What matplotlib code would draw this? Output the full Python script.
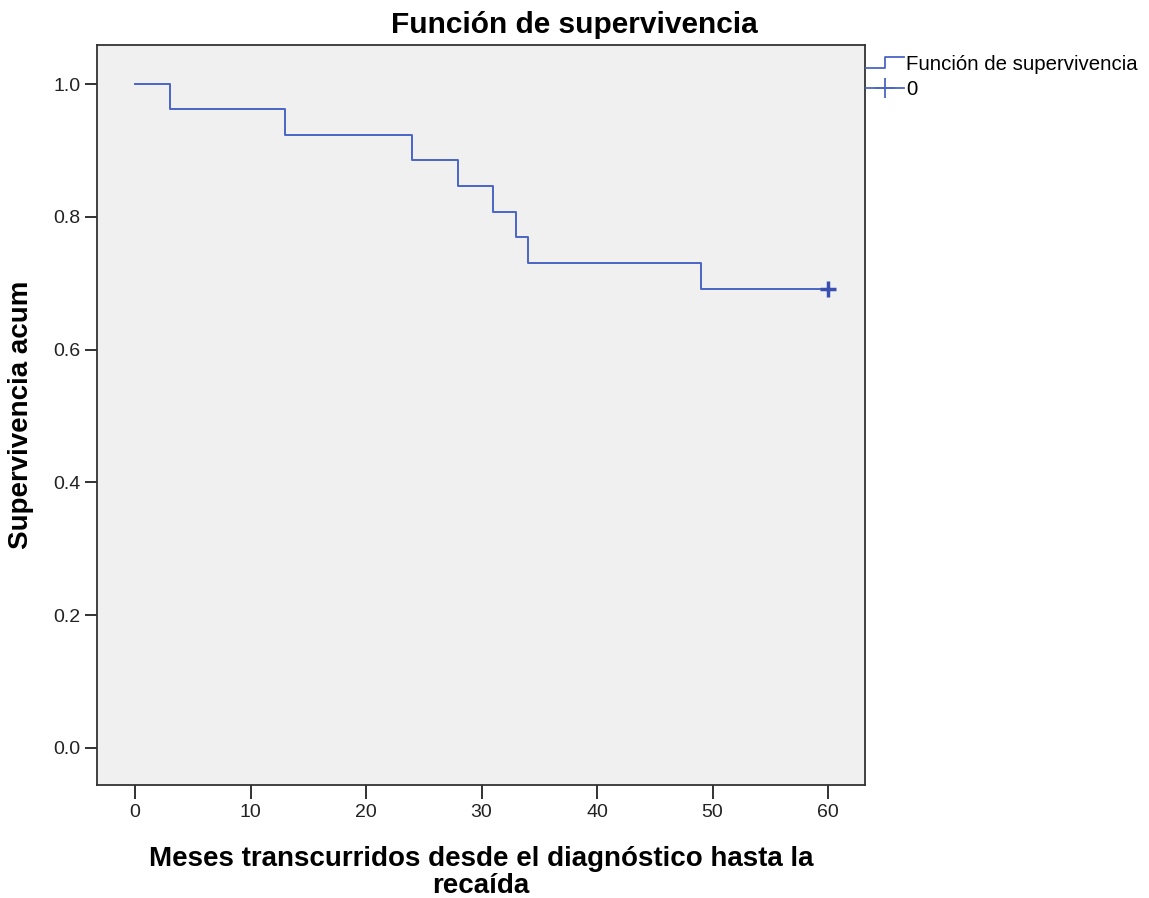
import matplotlib
matplotlib.use("Agg")
import matplotlib.pyplot as plt
from matplotlib.lines import Line2D
from matplotlib.legend_handler import HandlerBase

plt.rcParams['font.family'] = ['Liberation Sans', 'DejaVu Sans']

# Kaplan-Meier steps (months, cumulative survival)
event_times = [0, 3, 13, 24, 28, 31, 33, 34, 49, 60]
survival = [1.0, 0.962, 0.923, 0.885, 0.846, 0.808, 0.769, 0.731, 0.692, 0.692]
censor_times = [60]
censor_surv = [0.692]

x_ticks = [0, 10, 20, 30, 40, 50, 60]
y_ticks = [0.0, 0.2, 0.4, 0.6, 0.8, 1.0]

line_color = '#4a66c4'
marker_color = '#3a50b0'


class StepHandler(HandlerBase):
    def create_artists(self, legend, orig_handle, xdescent, ydescent,
                       width, height, fontsize, trans):
        xs = [-xdescent, -xdescent + width * 0.5, -xdescent + width * 0.5, -xdescent + width]
        ys = [height * 0.1, height * 0.1, height * 0.9, height * 0.9]
        ln = Line2D(xs, ys, color=line_color, lw=1.3, transform=trans)
        return [ln]


fig = plt.figure(figsize=(11.49, 8.98), dpi=100)
ax = fig.add_axes([0.0844, 0.1258, 0.6684, 0.8241])
ax.set_facecolor('#f0f0f0')

ax.step(event_times, survival, where='post', color=line_color, lw=1.4)
ax.plot(censor_times, censor_surv, linestyle='none', marker='+', color=marker_color,
        markersize=11, markeredgewidth=2.5)

ax.set_xlim(-3.3, 63.2)
ax.set_ylim(-0.056, 1.059)
ax.set_xticks(x_ticks)
ax.set_yticks(y_ticks)
ax.set_yticklabels([f"{v:.1f}" for v in y_ticks])
ax.tick_params(direction='out', length=10, width=1.3, labelsize=14, colors='#222222', pad=4)
ax.tick_params(axis='y', length=9, pad=3)

for s in ax.spines.values():
    s.set_color('#333333')
    s.set_linewidth(1.3)

fig.text(0.5, 1 - 25 / 898, "Función de supervivencia", fontsize=21.5, fontweight='bold',
         ha='center', va='center')
ax.set_xlabel("Meses transcurridos desde el diagnóstico hasta la\nrecaída",
              fontsize=20, fontweight='bold', labelpad=18, linespacing=1.05)
ax.yaxis.set_label_coords(-0.082, 0.5)
ax.set_ylabel("Supervivencia acum", fontsize=20, fontweight='bold')

step_handle = Line2D([], [], color=line_color)
cens_handle = Line2D([], [], color=line_color, marker='+', markersize=15,
                     markeredgewidth=1.3, lw=1.3)
ax.legend([step_handle, cens_handle], ["Función de supervivencia", "0"],
          handler_map={step_handle: StepHandler()},
          loc='upper left', bbox_to_anchor=(1.0, 0.988), frameon=False,
          fontsize=14.7, handlelength=1.85, handletextpad=0.1,
          borderaxespad=0.0, borderpad=0.05, labelspacing=0.3)

fig.savefig("out.png", dpi=100)
